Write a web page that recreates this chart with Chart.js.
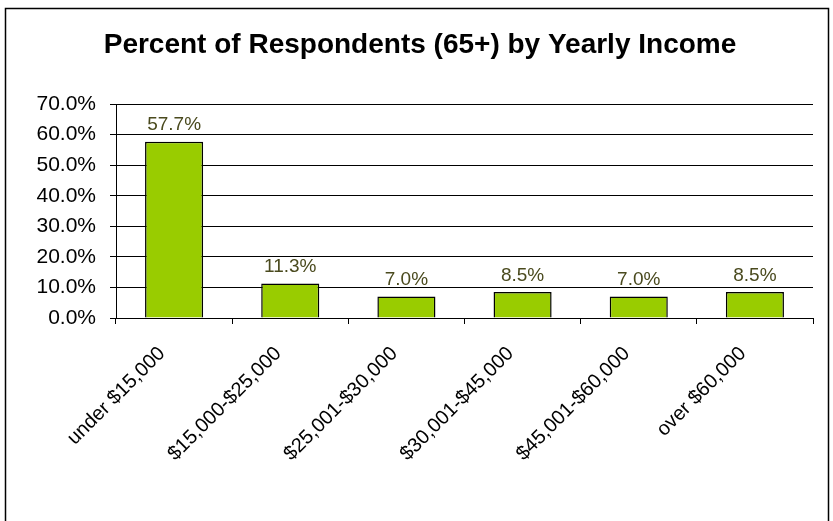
<!DOCTYPE html>
<html>
<head>
<meta charset="utf-8">
<script src="https://cdn.jsdelivr.net/npm/chart.js@4"></script>
<style>
  html, body { margin: 0; padding: 0; background: #fff; }
  #wrap { position: relative; width: 833px; height: 521px; }
  canvas { display: block; }
</style>
</head>
<body>
<div id="wrap"><canvas id="c" width="833" height="521"></canvas></div>
<script>
const titleText = 'Percent of Respondents (65+) by Yearly Income';
const categories = ['under $15,000', '$15,000-$25,000', '$25,001-$30,000', '$30,001-$45,000', '$45,001-$60,000', 'over $60,000'];
const percentValues = [57.7, 11.3, 7.0, 8.5, 7.0, 8.5];
const yTickMin = 0;
const yTickMax = 70;
const yTickStep = 10;

const FONT = '"Liberation Sans", Arial, sans-serif';

const frame = {
  id: 'frame',
  beforeDraw(chart) {
    const ctx = chart.ctx;
    ctx.save();
    ctx.fillStyle = '#fff';
    ctx.fillRect(0, 0, chart.width, chart.height);
    ctx.strokeStyle = '#000';
    ctx.lineWidth = 1.5;
    ctx.strokeRect(5.5, 8.5, 823, 600);
    ctx.restore();
  }
};

const valueLabels = {
  id: 'valueLabels',
  afterDatasetsDraw(chart) {
    const ctx = chart.ctx;
    const meta = chart.getDatasetMeta(0);
    ctx.save();
    ctx.font = '19px ' + FONT;
    ctx.fillStyle = '#4a4a1e';
    ctx.textAlign = 'center';
    ctx.textBaseline = 'bottom';
    meta.data.forEach((bar, i) => {
      ctx.fillText(percentValues[i].toFixed(1) + '%', bar.x, bar.y - 7);
    });
    ctx.restore();
  }
};

new Chart(document.getElementById('c'), {
  type: 'bar',
  data: {
    labels: categories,
    datasets: [{
      data: percentValues,
      backgroundColor: '#99cc00',
      borderColor: '#000',
      borderWidth: 1.5,
      barPercentage: 0.5,
      categoryPercentage: 1.0
    }]
  },
  options: {
    responsive: false,
    animation: false,
    layout: { padding: { left: 27, right: 20, top: 0, bottom: 0 } },
    plugins: {
      legend: { display: false },
      tooltip: { enabled: false },
      title: {
        display: true,
        text: titleText,
        color: '#000',
        font: { family: FONT, size: 28, weight: 'bold', lineHeight: 1.2 },
        padding: { top: 28, bottom: 42.5 }
      }
    },
    scales: {
      x: {
        grid: { display: true, drawOnChartArea: false, drawTicks: true, tickLength: 6, color: '#000', offset: true },
        border: { display: true, color: '#000', width: 1 },
        ticks: {
          color: '#000',
          font: { family: FONT, size: 20 },
          maxRotation: 45,
          minRotation: 45,
          autoSkip: false,
          padding: 18,
          labelOffset: -12
        },
        afterFit(s) { s.height = 203; }
      },
      y: {
        min: yTickMin,
        max: yTickMax,
        grid: { color: '#000', lineWidth: 1, tickLength: 6, drawTicks: true },
        border: { display: true, color: '#000', width: 1 },
        ticks: {
          stepSize: yTickStep,
          color: '#000',
          font: { family: FONT, size: 21 },
          padding: 14,
          callback: v => Number(v).toFixed(1) + '%'
        },
        afterFit(s) { s.width = 89; }
      }
    }
  },
  plugins: [frame, valueLabels]
});
</script>
</body>
</html>
